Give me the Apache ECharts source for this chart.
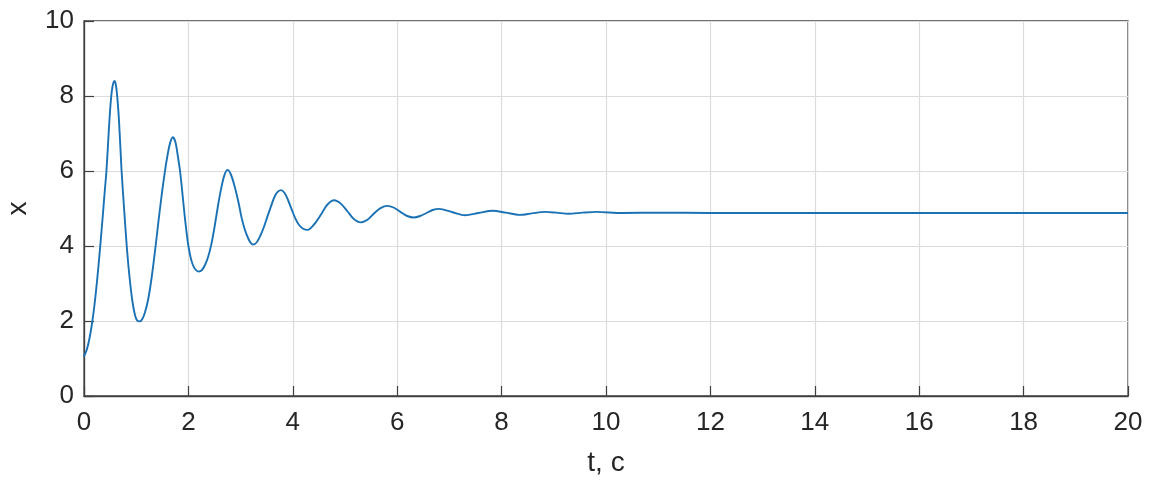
<!DOCTYPE html>
<html>
<head>
<meta charset="utf-8">
<script src="https://cdn.jsdelivr.net/npm/echarts@6/dist/echarts.min.js"></script>
<style>html,body{margin:0;padding:0;background:#fff}#c{width:1154px;height:483px}</style>
</head>
<body>
<div id="c"></div>
<script>
// points
var tValues = [0.00, 0.05, 0.10, 0.15, 0.20, 0.25, 0.30, 0.35, 0.40, 0.43, 0.47, 0.50, 0.53, 0.56, 0.587, 0.61, 0.63, 0.645, 0.67, 0.70, 0.72, 0.77, 0.82, 0.87, 0.93, 0.98, 1.02, 1.07,
  1.12, 1.17, 1.23, 1.30, 1.37, 1.43, 1.49, 1.55, 1.60, 1.65, 1.70, 1.75, 1.80, 1.84, 1.88, 1.92, 1.96, 2.00, 2.05, 2.10, 2.15, 2.20,
  2.26, 2.32, 2.38, 2.44, 2.50, 2.57, 2.63, 2.69, 2.75, 2.81, 2.88, 2.96, 3.02, 3.08, 3.14, 3.19, 3.24,
  3.31, 3.38, 3.45, 3.51, 3.58, 3.64, 3.70, 3.77, 3.84, 3.91, 3.98, 4.05, 4.12, 4.20, 4.28,
  4.41, 4.54, 4.66, 4.79, 4.92, 5.05, 5.17, 5.30, 5.43, 5.55, 5.68, 5.81, 5.94, 6.06, 6.19, 6.32, 6.44, 6.56, 6.68, 6.80,
  7.06, 7.30, 7.56, 7.83, 8.08, 8.34, 8.58, 8.83, 9.05, 9.28, 9.55, 9.82, 10.3, 11, 12, 13, 14, 15, 16, 17, 18, 19, 20];
var xValues = [1.06, 1.22, 1.50, 1.90, 2.42, 3.07, 3.82, 4.64, 5.50, 6.00, 6.95, 7.62, 8.10, 8.34, 8.40, 8.30, 8.08, 7.85, 7.35, 6.55, 6.00, 4.95, 3.98, 3.20, 2.50, 2.14, 2.01, 1.99,
  2.06, 2.24, 2.58, 3.20, 3.98, 4.70, 5.38, 5.99, 6.42, 6.75, 6.90, 6.78, 6.38, 6.00, 5.48, 4.92, 4.42, 4.00, 3.65, 3.45, 3.35, 3.32,
  3.36, 3.50, 3.72, 4.05, 4.50, 5.10, 5.55, 5.89, 6.03, 5.92, 5.62, 5.16, 4.75, 4.44, 4.22, 4.09, 4.04,
  4.10, 4.28, 4.52, 4.77, 5.05, 5.28, 5.43, 5.49, 5.42, 5.22, 4.97, 4.73, 4.56, 4.46, 4.43,
  4.58, 4.84, 5.10, 5.22, 5.13, 4.92, 4.72, 4.63, 4.70, 4.86, 5.01, 5.07, 5.02, 4.91, 4.80, 4.76, 4.80, 4.88, 4.96, 4.99,
  4.90, 4.82, 4.88, 4.94, 4.89, 4.83, 4.87, 4.91, 4.89, 4.86, 4.89, 4.91, 4.88, 4.89, 4.88, 4.88, 4.88, 4.88, 4.88, 4.88, 4.88, 4.88, 4.88];
var xTicks = [0, 2, 4, 6, 8, 10, 12, 14, 16, 18, 20];
var yTicks = [0, 2, 4, 6, 8, 10];

var data = tValues.map(function (t, i) { return [t, xValues[i]]; });
var chart = echarts.init(document.getElementById('c'));
var txt = '#262626';
var font = 'Liberation Sans';
chart.setOption({
  animation: false,
  backgroundColor: '#fff',
  grid: { left: 84, right: 26, top: 21, bottom: 87, outerBoundsMode: 'none', containLabel: false, show: true, borderColor: '#404040', borderWidth: 1.3, backgroundColor: 'transparent' },
  xAxis: {
    type: 'value', min: xTicks[0], max: xTicks[xTicks.length - 1], interval: 2,
    name: 't, c', nameLocation: 'middle', nameGap: 53,
    nameTextStyle: { fontFamily: font, fontSize: 28, color: txt },
    axisLine: { show: true, onZero: false, lineStyle: { color: '#404040', width: 1.3 } },
    axisTick: { show: true, inside: true, length: 10, lineStyle: { color: '#404040', width: 1.2 } },
    axisLabel: { fontFamily: font, fontSize: 26, color: txt, margin: 14 },
    splitLine: { show: true, lineStyle: { color: '#dcdcdc', width: 1.2 } }
  },
  yAxis: {
    type: 'value', min: yTicks[0], max: yTicks[yTicks.length - 1], interval: 2,
    name: 'x', nameLocation: 'middle', nameGap: 52, nameRotate: 90,
    nameTextStyle: { fontFamily: font, fontSize: 28, color: txt },
    axisLine: { show: true, lineStyle: { color: '#404040', width: 1.3 } },
    axisTick: { show: true, inside: true, length: 10, lineStyle: { color: '#404040', width: 1.2 } },
    axisLabel: { fontFamily: font, fontSize: 26, color: txt, margin: 10 },
    splitLine: { show: true, lineStyle: { color: '#dcdcdc', width: 1.2 } }
  },
  series: [{
    type: 'line', data: data, smooth: 0.3, showSymbol: false, symbol: 'none',
    lineStyle: { color: '#1a72b5', width: 1.9 }
  }]
});
</script>
</body>
</html>
